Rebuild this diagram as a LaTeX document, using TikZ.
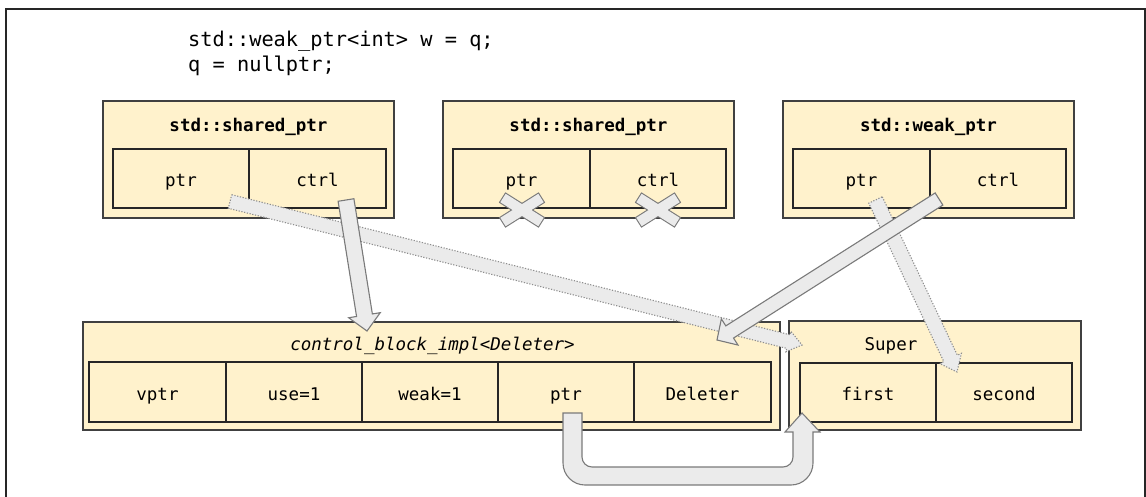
\documentclass[tikz,border=0pt]{standalone}
\usepackage{fontspec}
\setmonofont{DejaVu Sans Mono}
\usetikzlibrary{calc}
\definecolor{boxfill}{HTML}{FFF2CC}
\definecolor{arrfill}{HTML}{EBEBEB}
\definecolor{arrline}{HTML}{7A7A7A}
\newcommand\blockarrow[6]{% style, from, to, half shaft, half head, head length
  \coordinate (hb) at ($(#3)!#6!(#2)$);
  \draw[#1] ($(#2)!#4!90:(#3)$) -- ($(hb)!#4!90:(#3)$) -- ($(hb)!#5!90:(#3)$) -- (#3)
    -- ($(hb)!#5!-90:(#3)$) -- ($(hb)!#4!-90:(#3)$) -- ($(#2)!#4!-90:(#3)$) -- cycle;
}
\newcommand\xbarpath[3]{% style, from, to
  \path[#1] ($(#2)!5pt!90:(#3)$) -- ($(#3)!5pt!-90:(#2)$) -- ($(#3)!5pt!90:(#2)$) -- ($(#2)!5pt!-90:(#3)$) -- cycle;
}
\begin{document}
\begin{tikzpicture}[x=1pt,y=-1pt,
  outerbox/.style={draw=black!75, line width=1.3pt, fill=boxfill, inner sep=0pt},
  cell/.style={draw=black!85, line width=1.1pt, fill=boxfill, minimum height=59pt, inner sep=0pt,
     text height=16.5pt, text depth=0pt, font=\fontsize{17.5}{20}\selectfont\ttfamily},
  titletext/.style={anchor=base, inner sep=0pt, font=\fontsize{17.5}{20}\selectfont\ttfamily\bfseries},
  ititle/.style={anchor=base, inner sep=0pt, font=\fontsize{17.5}{20}\selectfont\ttfamily\itshape},
  ptitle/.style={anchor=base, inner sep=0pt, font=\fontsize{17.5}{20}\selectfont\ttfamily},
  solidarrow/.style={draw=arrline, fill=arrfill, line width=1.1pt, line join=miter},
  dottedarrow/.style={draw=arrline!85, fill=arrfill, line width=1.1pt, dash pattern=on 1.2pt off 1.6pt},
]
\useasboundingbox (0,0) rectangle (1146,496);
% frame
\draw[line width=1.8pt, black!85] (6,500) -- (6,9) -- (1144.6,9) -- (1144.6,500);
% code
\node[anchor=base west, inner sep=0pt, font=\fontsize{20.3}{24}\selectfont\ttfamily] (code1) at (188,46.7) {std::weak\_ptr<int> w = q;};
\node[anchor=base west, inner sep=0pt, font=\fontsize{20.3}{24}\selectfont\ttfamily] (code2) at (188,71) {q = nullptr;};
% box 1
\node[outerbox, minimum width=291pt, minimum height=117pt] (b1) at (248.5,159.5) {};
\node[titletext] (b1t) at (248.5,131.5) {std::shared\_ptr};
\node[cell, minimum width=136pt] (b1p) at (181,178.5) {ptr};
\node[cell, minimum width=137pt] (b1c) at (317.5,178.5) {ctrl};
% box 2
\node[outerbox, minimum width=291pt, minimum height=117pt] (b2) at (588.5,159.5) {};
\node[titletext] (b2t) at (588.5,131.5) {std::shared\_ptr};
\node[cell, minimum width=137pt] (b2p) at (521.5,178.5) {ptr};
\node[cell, minimum width=136pt] (b2c) at (658,178.5) {ctrl};
% box 3
\node[outerbox, minimum width=291pt, minimum height=117pt] (b3) at (928.5,159.5) {};
\node[titletext] (b3t) at (928.5,131.5) {std::weak\_ptr};
\node[cell, minimum width=137pt] (b3p) at (861.5,178.5) {ptr};
\node[cell, minimum width=136pt] (b3c) at (998,178.5) {ctrl};
% control block
\node[outerbox, minimum width=697pt, minimum height=108pt] (cb) at (431.5,376) {};
\node[ititle] (cbt) at (432.5,350.7) {control\_block\_impl<Deleter>};
\node[cell, minimum width=137pt, minimum height=60pt] (cbv) at (157.5,392) {vptr};
\node[cell, minimum width=136pt, minimum height=60pt] (cbu) at (294,392) {use=1};
\node[cell, minimum width=136pt, minimum height=60pt] (cbw) at (430,392) {weak=1};
\node[cell, minimum width=136pt, minimum height=60pt] (cbp) at (566,392) {ptr};
\node[cell, minimum width=137pt, minimum height=60pt] (cbd) at (702.5,392) {Deleter};
% super
\node[outerbox, minimum width=292pt, minimum height=109pt] (sp) at (935,375.5) {};
\node[ptitle] (spt) at (891,350.7) {Super};
\node[cell, minimum width=136pt, minimum height=59pt] (spf) at (868,392.5) {first};
\node[cell, minimum width=136pt, minimum height=59pt] (sps) at (1004,392.5) {second};
% crosses
\coordinate (x1a) at (503,198); \coordinate (x1b) at (541,222);
\coordinate (x1c) at (503,222); \coordinate (x1d) at (541,198);
\coordinate (x2a) at (639,198); \coordinate (x2b) at (677,222);
\coordinate (x2c) at (639,222); \coordinate (x2d) at (677,198);
\xbarpath{draw=arrline, line width=2.2pt}{x1a}{x1b}
\xbarpath{draw=arrline, line width=2.2pt}{x1c}{x1d}
\xbarpath{draw=arrline, line width=2.2pt}{x2a}{x2b}
\xbarpath{draw=arrline, line width=2.2pt}{x2c}{x2d}
\xbarpath{fill=arrfill}{x1a}{x1b}
\xbarpath{fill=arrfill}{x1c}{x1d}
\xbarpath{fill=arrfill}{x2a}{x2b}
\xbarpath{fill=arrfill}{x2c}{x2d}
% arrow endpoints
\coordinate (a2s) at (230,201.5); \coordinate (a2e) at (802,345);
\coordinate (a4s) at (875.5,200); \coordinate (a4e) at (957,372);
\coordinate (a1s) at (346,200);   \coordinate (a1e) at (367,331);
\coordinate (a3s) at (939,199);   \coordinate (a3e) at (717,340);
% dotted arrows
\blockarrow{dottedarrow}{a2s}{a2e}{7pt}{10.5pt}{14pt}
\blockarrow{dottedarrow}{a4s}{a4e}{7.5pt}{12pt}{15pt}
% solid arrows
\blockarrow{solidarrow}{a1s}{a1e}{8pt}{16pt}{16pt}
\blockarrow{solidarrow}{a3s}{a3e}{7.2pt}{15.5pt}{15pt}
% U arrow from cb ptr to Super first
\draw[solidarrow] (563,413) -- (563,463) .. controls (563,475.1) and (572.9,485) .. (585,485)
  -- (791,485) .. controls (803.1,485) and (813,475.1) .. (813,463) -- (813,432) -- (820,432)
  -- (802,413) -- (785,432) -- (793,432) -- (793,457) .. controls (793,462.5) and (788.5,467) .. (783,467)
  -- (592,467) .. controls (586.5,467) and (582,462.5) .. (582,457) -- (582,413) -- cycle;
\end{tikzpicture}
\end{document}
